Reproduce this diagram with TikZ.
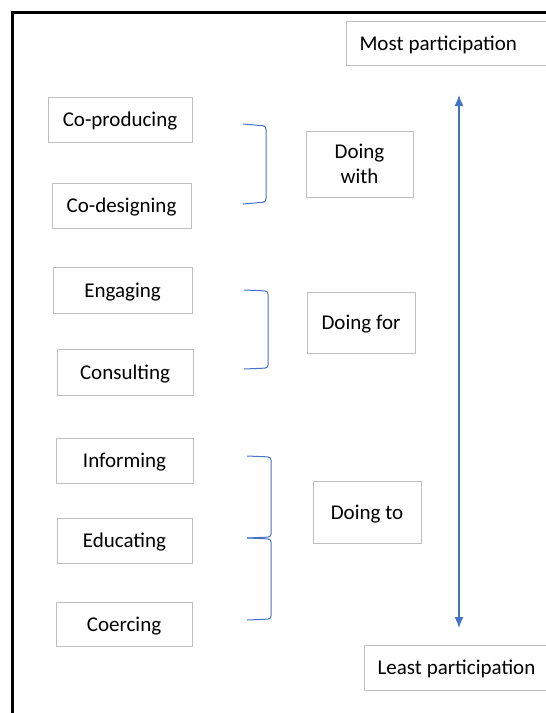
\documentclass[tikz,border=0pt]{standalone}
\usepackage{fontspec}
\setmainfont{Carlito}
\usetikzlibrary{arrows.meta}
\definecolor{boxgray}{HTML}{BFBFBF}
\definecolor{brblue}{HTML}{4472C4}
\begin{document}
\begin{tikzpicture}[x=1pt,y=-1pt]
\tikzset{
  box/.style={draw=boxgray, line width=1pt, fill=white, inner sep=0pt, align=center, text height=17pt, text depth=3pt, font=\fontsize{21}{25}\selectfont},
  lbox/.style={draw=boxgray, line width=1pt, fill=white, inner ysep=0pt, inner xsep=13pt, text width=200pt, align=left, anchor=west, text height=17pt, text depth=3pt, font=\fontsize{21}{25}\selectfont},
  brk/.style={draw=brblue, line width=1pt, rounded corners=3pt},
  axis/.style={draw=brblue, line width=1.5pt, {Latex[length=11pt,width=9pt]}-{Latex[length=11pt,width=9pt]}}
}
\useasboundingbox (0,0) rectangle (546,713);
\clip (0,0) rectangle (546,713);
\fill[white] (0,0) rectangle (546,713);
% outer frame
\draw[black, line width=2.5pt] (12.5,730) -- (12.5,12.5) -- (560,12.5);
% left column
\node[box, minimum width=144, minimum height=45] (coprod) at (120,119.5) {Co-producing};
\node[box, minimum width=139, minimum height=45] (codes) at (121.5,205.5) {Co-designing};
\node[box, minimum width=139, minimum height=46] (engag) at (122.5,290) {Engaging};
\node[box, minimum width=136, minimum height=46] (consul) at (125,372) {Consulting};
\node[box, minimum width=137, minimum height=45] (inform) at (124.5,460.5) {Informing};
\node[box, minimum width=135, minimum height=45] (educ) at (124.5,540.5) {Educating};
\node[box, minimum width=136, minimum height=44] (coerc) at (124,624) {Coercing};
% middle column
\node[box, minimum width=107, minimum height=66, text height=42pt, text depth=3pt] (dwith) at (359.5,164) {Doing\\with};
\node[box, minimum width=108, minimum height=61] (dfor) at (361,322.5) {Doing for};
\node[box, minimum width=108, minimum height=62] (dto) at (367,512) {Doing to};
% ends
\node[lbox, minimum height=44] (most) at (346,43) {Most\hspace{-2pt} participation};
\node[lbox, minimum height=45] (least) at (364,667.5) {Least\hspace{-2pt} participation};
% brackets
\draw[brk] (243,124) -- (266,126) -- (266,202) -- (243,204);
\draw[brk] (244,290) -- (268,291) -- (268,368) -- (244,369);
\draw[brk] (247,456) -- (271,457) -- (271,537) -- (247,538);
\draw[brk] (247,538) -- (271,539) -- (271,619) -- (247,620);
% axis arrow
\coordinate (top) at (459,95);
\coordinate (bot) at (459,628);
\draw[axis] (top) -- (bot);
\end{tikzpicture}
\end{document}
